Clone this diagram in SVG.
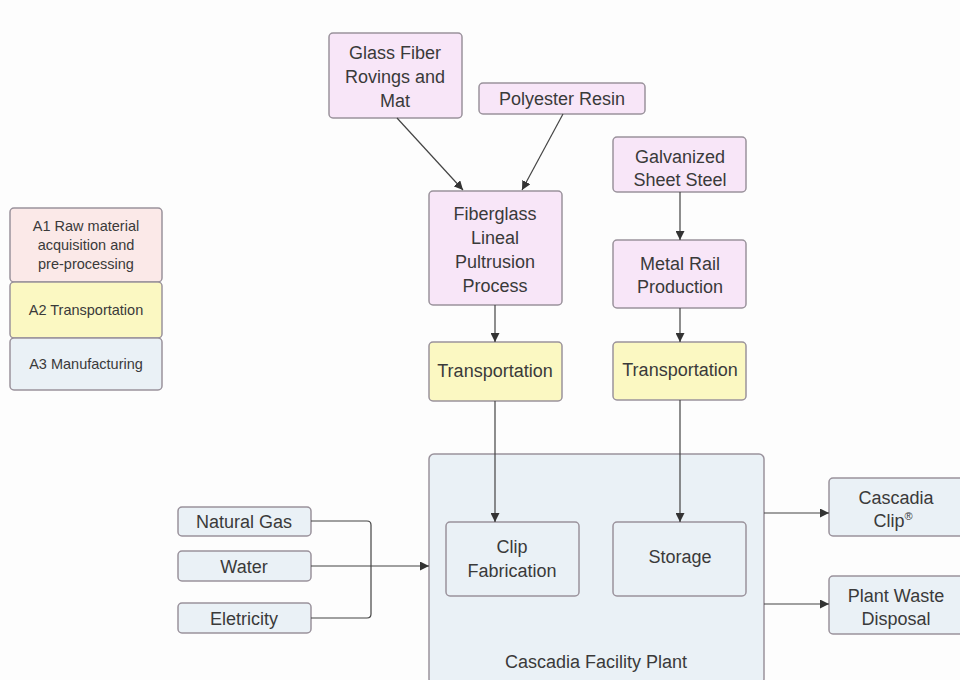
<svg xmlns="http://www.w3.org/2000/svg" width="960" height="680" viewBox="0 0 960 680">
<defs>
<marker id="ah" viewBox="0 0 10 10" refX="10" refY="5" markerWidth="9" markerHeight="9" markerUnits="userSpaceOnUse" orient="auto"><path d="M0,0 L10,5 L0,10 z" fill="#333"/></marker>
<style>
.n rect{stroke:#9a929c;stroke-width:1.5}
.p{fill:#f8e6f8}
.y{fill:#fbf8c2}
.b{fill:#eaf1f6}
.a1{fill:#fbe9e8}
text{font-family:"Liberation Sans",Arial,sans-serif;font-size:18px;fill:#3a3a3a;text-anchor:middle}
.s{font-size:14.5px}
.c path{fill:none;stroke:#444;stroke-width:1.2}
</style>
</defs>
<rect width="960" height="680" fill="#fdfdfd"/>
<g id="legend" class="n">
<rect class="a1" x="10" y="208" width="152" height="74" rx="4"/>
<text class="s" x="86" y="231">A1 Raw material</text>
<text class="s" x="86" y="250">acquisition and</text>
<text class="s" x="86" y="269">pre-processing</text>
<rect class="y" x="10" y="282" width="152" height="56" rx="4"/>
<text class="s" x="86" y="315">A2 Transportation</text>
<rect class="b" x="10" y="338" width="152" height="52" rx="4"/>
<text class="s" x="86" y="369">A3 Manufacturing</text>
</g>
<g id="plant" class="n">
<rect class="b" x="429" y="454" width="335" height="230" rx="5"/>
<text x="596" y="668">Cascadia Facility Plant</text>
</g>
<g id="glass" class="n"><rect class="p" x="329" y="33" width="133" height="85" rx="4"/>
<text x="395" y="59">Glass Fiber</text><text x="395" y="83">Rovings and</text><text x="395" y="107">Mat</text></g>
<g id="resin" class="n"><rect class="p" x="479" y="83" width="166" height="31" rx="4"/>
<text x="562" y="105">Polyester Resin</text></g>
<g id="galv" class="n"><rect class="p" x="613" y="137" width="133" height="55" rx="4"/>
<text x="680" y="163">Galvanized</text><text x="680" y="186">Sheet Steel</text></g>
<g id="fiberglass" class="n"><rect class="p" x="429" y="191" width="133" height="114" rx="4"/>
<text x="495" y="220">Fiberglass</text><text x="495" y="244">Lineal</text><text x="495" y="268">Pultrusion</text><text x="495" y="292">Process</text></g>
<g id="metal" class="n"><rect class="p" x="613" y="240" width="133" height="68" rx="4"/>
<text x="680" y="270">Metal Rail</text><text x="680" y="293">Production</text></g>
<g id="trans1" class="n"><rect class="y" x="429" y="342" width="133" height="59" rx="4"/>
<text x="495" y="377">Transportation</text></g>
<g id="trans2" class="n"><rect class="y" x="613" y="342" width="133" height="58" rx="4"/>
<text x="680" y="376">Transportation</text></g>
<g id="clipfab" class="n"><rect class="b" x="446" y="522" width="133" height="74" rx="4"/>
<text x="512" y="553">Clip</text><text x="512" y="577">Fabrication</text></g>
<g id="storage" class="n"><rect class="b" x="613" y="522" width="133" height="74" rx="4"/>
<text x="680" y="563">Storage</text></g>
<g id="clip" class="n"><rect class="b" x="829" y="478" width="140" height="58" rx="4"/>
<text x="896" y="504">Cascadia</text><text x="893" y="527">Clip<tspan font-size="11" dy="-7">®</tspan></text></g>
<g id="waste" class="n"><rect class="b" x="829" y="576" width="140" height="58" rx="4"/>
<text x="896" y="602">Plant Waste</text><text x="896" y="625">Disposal</text></g>
<g id="gas" class="n"><rect class="b" x="178" y="507" width="133" height="29" rx="4"/>
<text x="244" y="528">Natural Gas</text></g>
<g id="water" class="n"><rect class="b" x="178" y="551" width="133" height="30" rx="4"/>
<text x="244" y="573">Water</text></g>
<g id="elec" class="n"><rect class="b" x="178" y="603" width="133" height="30" rx="4"/>
<text x="244" y="625">Eletricity</text></g>
<g id="connectors" class="c">
<path d="M397,118 L463,190" marker-end="url(#ah)"/>
<path d="M563,114 L522,190" marker-end="url(#ah)"/>
<path d="M680,192 L680,240" marker-end="url(#ah)"/>
<path d="M680,308 L680,342" marker-end="url(#ah)"/>
<path d="M495,305 L495,342" marker-end="url(#ah)"/>
<path d="M495,401 L495,522" marker-end="url(#ah)"/>
<path d="M680,400 L680,522" marker-end="url(#ah)"/>
<path d="M311,521 L367,521 Q371,521 371,525 L371,614 Q371,618 367,618 L311,618"/>
<path d="M311,566 L429,566" marker-end="url(#ah)"/>
<path d="M764,513 L829,513" marker-end="url(#ah)"/>
<path d="M764,604 L829,604" marker-end="url(#ah)"/>
</g>
</svg>
